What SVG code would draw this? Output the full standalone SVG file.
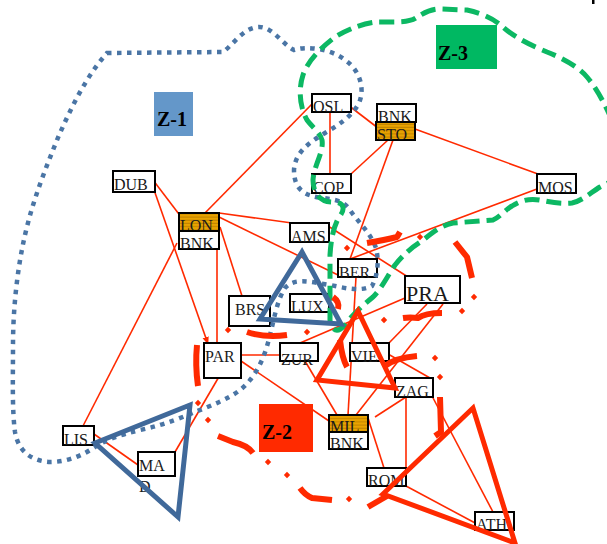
<svg xmlns="http://www.w3.org/2000/svg" width="607" height="544" viewBox="0 0 607 544">
<style>
.edge{stroke:#ff2a00;stroke-width:1.6;fill:none}
.box{fill:#fff;stroke:#000;stroke-width:2}
.obox{fill:url(#stripe);stroke:#000;stroke-width:2}
.lbl{font-family:"Liberation Serif","Times New Roman",serif;font-size:16px;fill:#1a1a1a}
.zl{font-family:"Liberation Serif","Times New Roman",serif;font-size:20px;font-weight:bold;fill:#000}
.rz{stroke:#ff2a00;stroke-width:6;fill:none;stroke-linecap:butt;stroke-linejoin:round}
.tri-b{fill:none;stroke:#40699a;stroke-width:5;stroke-linejoin:miter}
.tri-r{fill:none;stroke:#ff2a00;stroke-width:5;stroke-linejoin:miter}
</style>
<defs>
<pattern id="stripe" width="4" height="3.2" patternUnits="userSpaceOnUse">
<rect width="4" height="3.2" fill="#e9a300"/>
<rect y="2.2" width="4" height="0.8" fill="#b47800"/>
</pattern>
<marker id="arr" viewBox="0 0 10 10" refX="9" refY="5" markerWidth="5" markerHeight="5" orient="auto">
<path d="M0,1 L10,5 L0,9 Z" fill="#ff2a00"/>
</marker>
<path id="dot" d="M0,-3.2 L3.2,0 L0,3.2 L-3.2,0 Z" fill="#ff2a00"/>
</defs>

<g id="connectors">
<line class="edge" x1="312" y1="104" x2="205" y2="213"/>
<line class="edge" x1="330" y1="112" x2="330" y2="174"/>
<line class="edge" x1="348" y1="105" x2="378" y2="128"/>
<line class="edge" x1="388" y1="140" x2="351" y2="174"/>
<line class="edge" x1="393" y1="140" x2="350" y2="259"/>
<line class="edge" x1="415" y1="129" x2="538" y2="174"/>
<line class="edge" x1="537" y1="189" x2="350" y2="259"/>
<line class="edge" x1="153" y1="180" x2="188" y2="226" marker-end="url(#arr)"/>
<line class="edge" x1="153" y1="187" x2="208" y2="344" marker-end="url(#arr)"/>
<line class="edge" x1="219" y1="213" x2="292" y2="223"/>
<line class="edge" x1="219" y1="217" x2="338" y2="275"/>
<line class="edge" x1="220" y1="227" x2="242" y2="296"/>
<line class="edge" x1="217" y1="249" x2="217" y2="343"/>
<line class="edge" x1="177" y1="243" x2="83" y2="426"/>
<line class="edge" x1="328" y1="226" x2="408" y2="277"/>
<line class="edge" x1="356" y1="277" x2="348" y2="415"/>
<line class="edge" x1="405" y1="298" x2="300" y2="343"/>
<line class="edge" x1="427" y1="304" x2="388" y2="344"/>
<line class="edge" x1="443" y1="304" x2="356" y2="415"/>
<line class="edge" x1="388" y1="354" x2="430" y2="378"/>
<line class="edge" x1="241" y1="355" x2="280" y2="355"/>
<line class="edge" x1="241" y1="361" x2="329" y2="421"/>
<line class="edge" x1="227" y1="363" x2="175" y2="452"/>
<line class="edge" x1="305" y1="361" x2="337" y2="415"/>
<line class="edge" x1="375" y1="417" x2="406" y2="397"/>
<line class="edge" x1="406" y1="397" x2="406" y2="468"/>
<line class="edge" x1="368" y1="418" x2="384" y2="468"/>
<line class="edge" x1="432" y1="396" x2="493" y2="512"/>
<line class="edge" x1="406" y1="486" x2="477" y2="524"/>
<line class="edge" x1="94" y1="434" x2="138" y2="465"/>
</g>

<g id="node-OSL"><rect class="box" x="312" y="94" width="39" height="18"/><text class="lbl" x="313" y="112">OSL</text></g>
<g id="node-BNK-STO"><rect class="box" x="377" y="104" width="39" height="18"/><text class="lbl" x="378" y="122">BNK</text></g>
<g id="node-STO"><rect class="obox" x="376" y="122" width="39" height="18"/><text class="lbl" x="377" y="140">STO</text></g>
<g id="node-COP"><rect class="box" x="312" y="174" width="39" height="19"/><text class="lbl" x="313" y="193">COP</text></g>
<g id="node-MOS"><rect class="box" x="537" y="174" width="39" height="19"/><text class="lbl" x="538" y="193">MOS</text></g>
<g id="node-DUB"><rect class="box" x="113" y="171" width="42" height="21"/><text class="lbl" x="114" y="190">DUB</text></g>
<g id="node-LON"><rect class="obox" x="179" y="213" width="40" height="18"/><text class="lbl" x="180" y="231">LON</text></g>
<g id="node-BNK-LON"><rect class="box" x="179" y="231" width="40" height="18"/><text class="lbl" x="180" y="249">BNK</text></g>
<g id="node-AMS"><rect class="box" x="290" y="223" width="39" height="19"/><text class="lbl" x="291" y="242">AMS</text></g>
<g id="node-BER"><rect class="box" x="338" y="259" width="39" height="18"/><text class="lbl" x="339" y="278">BER</text></g>
<g id="node-BRS"><rect class="box" x="229" y="296" width="41" height="30"/><text class="lbl" x="235" y="315">BRS</text></g>
<g id="node-LUX"><rect class="box" x="290" y="294" width="39" height="18"/><text class="lbl" x="291" y="312">LUX</text></g>
<g id="node-PRA"><rect class="box" x="405" y="276" width="55" height="27"/><text class="lbl" x="406" y="301" style="font-size:22px">PRA</text></g>
<g id="node-PAR"><rect class="box" x="204" y="343" width="37" height="35"/><text class="lbl" x="205" y="362">PAR</text></g>
<g id="node-ZUR"><rect class="box" x="280" y="343" width="38" height="18"/><text class="lbl" x="281" y="365">ZUR</text></g>
<g id="node-VIE"><rect class="box" x="350" y="343" width="39" height="18"/><text class="lbl" x="351" y="362">VIE</text></g>
<g id="node-ZAG"><rect class="box" x="395" y="378" width="38" height="19"/><text class="lbl" x="396" y="397">ZAG</text></g>
<g id="node-MIL"><rect class="obox" x="329" y="415" width="39" height="17"/><text class="lbl" x="330" y="432">MIL</text></g>
<g id="node-BNK-MIL"><rect class="box" x="329" y="432" width="39" height="17"/><text class="lbl" x="330" y="449">BNK</text></g>
<g id="node-ROM"><rect class="box" x="367" y="468" width="39" height="18"/><text class="lbl" x="368" y="486">ROM</text></g>
<g id="node-ATH"><rect class="box" x="475" y="512" width="39" height="18"/><text class="lbl" x="476" y="530">ATH</text></g>
<g id="node-LIS"><rect class="box" x="63" y="426" width="31" height="19"/><text class="lbl" x="64" y="445">LIS</text></g>
<g id="node-MAD"><rect class="box" x="138" y="452" width="37" height="24"/><text class="lbl" x="139" y="471">MA</text><text class="lbl" x="139" y="492">D</text></g>

<g id="zone-1">
<path d="M107,53 L223,52 C233,45 243,28 258,27 C272,26 282,44 294,50 C305,46 330,48 345,60 C360,70 366,90 358,105 C350,118 338,125 325,133 C310,142 295,152 294,170 C294,190 305,196 323,198 C335,200 343,200 350,210 C358,222 370,232 376,248 C379,260 378,275 372,286 C360,292 345,288 330,285 C310,282 295,277 285,288 C277,300 274,320 270,335 C266,352 260,368 250,380 C240,393 225,400 205,408 C185,416 165,425 140,430 C120,435 105,440 95,447 C80,457 65,462 50,462 C30,461 18,450 15,432 C12,410 13,380 13,345 C13,310 17,270 25,235 C33,200 45,170 57,140 C70,110 85,78 107,53 Z" fill="none" stroke="#4a75a5" stroke-width="4.5" stroke-dasharray="4.5 5.5"/>
<rect x="154" y="92" width="39" height="44" fill="#6497c9"/>
<text class="zl" x="157" y="126">Z-1</text>
</g>

<g id="zone-3">
<path d="M612,120 C605,105 598,90 587,77 C578,66 560,57 547,52 C535,47 515,38 503,27 C495,20 485,14 467,10 L440,9 C430,9 422,14 416,18 C410,22 400,22 390,22 L377,22 C365,23 350,28 335,37 C322,47 308,60 303,75 C298,90 300,108 307,120 C312,127 320,132 322,140 C324,152 314,165 313,180 C313,195 322,203 335,202 C345,203 345,210 339,217 C333,228 331,240 330,255 L330,320 C331,330 337,334 345,325 C352,315 362,306 373,297 C382,288 388,275 395,265 C403,255 412,247 422,241 C432,233 440,226 453,223 L493,220 C500,217 505,210 512,206 C520,201 528,198 540,200 C550,202 560,204 572,203 C582,201 590,193 600,187 L612,181" fill="none" stroke="#0cb863" stroke-width="5" stroke-dasharray="15 7"/>
<rect x="436" y="25" width="61" height="44" fill="#00b862"/>
<text class="zl" x="438" y="60">Z-3</text>
</g>

<g id="zone-2">
<path class="rz" d="M367,243 Q385,240 397,237 L400,232"/>
<use href="#dot" x="420" y="237"/>
<path class="rz" d="M455,242 L467,257 L472,278"/>
<use href="#dot" x="474" y="297"/>
<use href="#dot" x="462" y="311"/>
<path class="rz" d="M442,313 Q425,313 418,318 Q410,317 403,318"/>
<use href="#dot" x="384" y="320"/>
<path class="rz" d="M340,340 Q342,358 347,367"/>
<path class="rz" d="M385,366 Q395,358 417,356"/>
<use href="#dot" x="435" y="358"/>
<use href="#dot" x="440" y="377"/>
<path class="rz" d="M440,397 L441,432 L435,436"/>
<path class="rz" d="M387,496 L368,507"/>
<use href="#dot" x="349" y="499"/>
<path class="rz" d="M332,500 L312,498 Q305,495 300,488"/>
<use href="#dot" x="287" y="475"/>
<use href="#dot" x="268" y="462"/>
<path class="rz" d="M253,453 Q247,445 233,442 L218,436"/>
<use href="#dot" x="208" y="420"/>
<use href="#dot" x="198" y="403"/>
<path class="rz" d="M198,386 Q195,365 197,345"/>
<use href="#dot" x="228" y="330"/>
<path class="rz" d="M247,332 Q265,338 287,335"/>
<use href="#dot" x="307" y="332"/>
<path class="rz" d="M333,297 Q340,302 338,309"/>
<use href="#dot" x="347" y="248"/>
<rect x="259" y="404" width="54" height="48" fill="#ff2a00"/>
<text class="zl" x="262" y="439">Z-2</text>
</g>

<g id="triangles">
<path class="tri-b" d="M302,252 L260,319 L341,324 Z"/>
<path class="tri-b" d="M190,405 L95,443 L178,517 Z"/>
<path class="tri-r" d="M358,311 L317,380 L395,388 Z"/>
<path class="tri-r" d="M383,494 L473,408 L515,543 Z"/>
</g>

<rect x="592" y="0" width="2.5" height="4" fill="#000"/>
</svg>
